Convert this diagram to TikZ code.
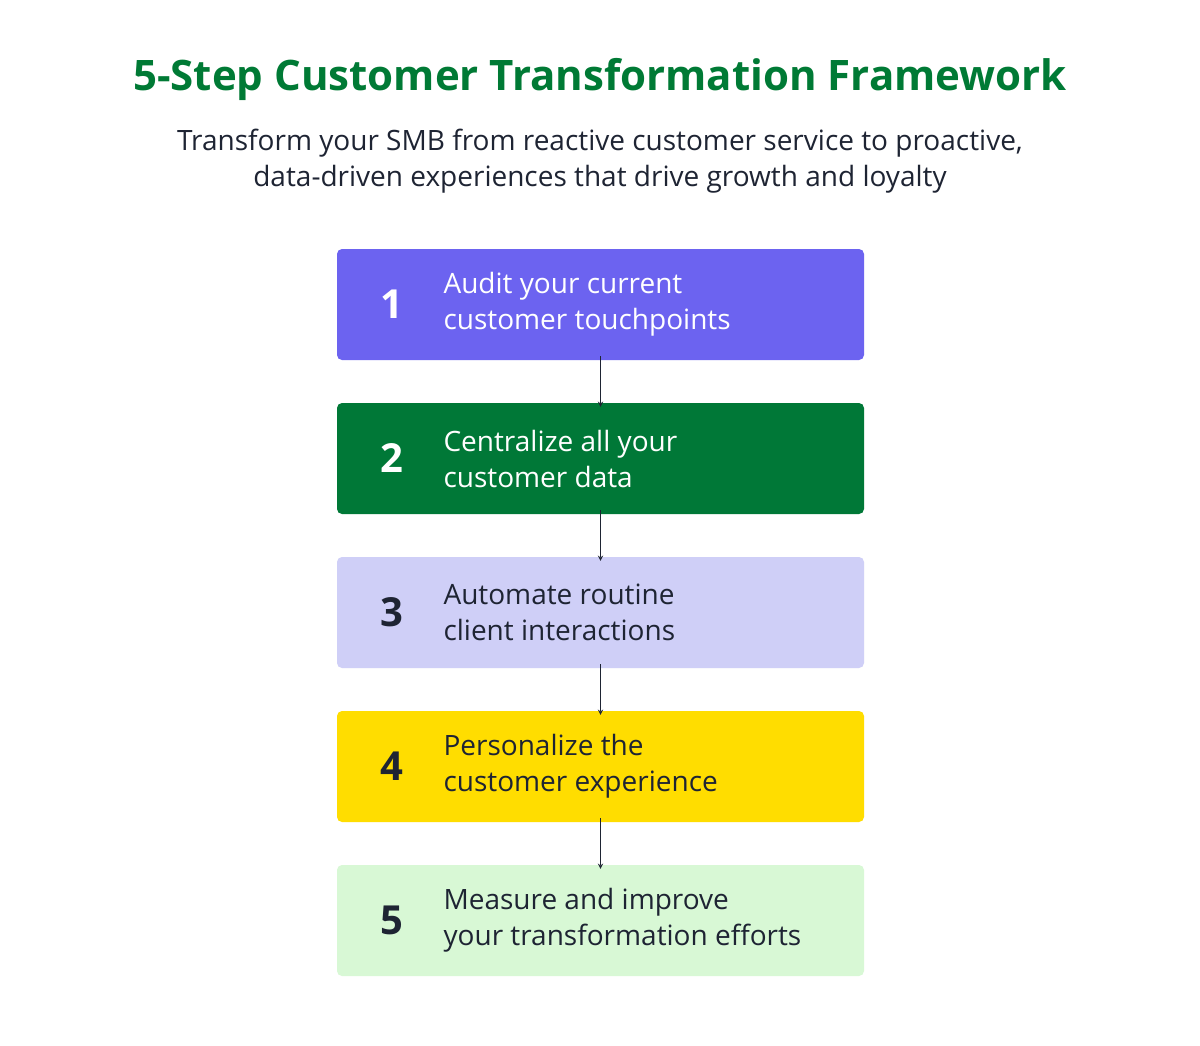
\documentclass[tikz,border=0pt]{standalone}
\usepackage{fontspec}
\setmainfont{Open Sans}
\definecolor{tgreen}{HTML}{007A35}
\definecolor{dark}{HTML}{1E2433}
\definecolor{c1}{HTML}{6C63F0}
\definecolor{c2}{HTML}{007837}
\definecolor{c3}{HTML}{CFCFF7}
\definecolor{c4}{HTML}{FFDD00}
\definecolor{c5}{HTML}{D8F8D5}
\begin{document}
\begin{tikzpicture}[x=1pt,y=-1pt,
  stepbox/.style={rounded corners=5pt,minimum width=527pt,minimum height=111pt,inner sep=0pt},
  num/.style={font=\fontsize{40}{40}\selectfont\bfseries,anchor=center},
  txt/.style={font=\fontsize{28}{36}\selectfont,anchor=west,align=left},
  arr/.style={->,>=stealth,draw=dark,line width=1.3pt}]
\useasboundingbox[fill=white] (0,0) rectangle (1200,1045);
\node[font=\fontsize{42}{48}\selectfont\bfseries,text=tgreen] (title) at (600,79) {5-Step Customer Transformation Framework};
\node[font=\fontsize{28}{36}\selectfont,text=dark,align=center] (sub) at (600,161) {Transform your SMB from reactive customer service to proactive,\\data-driven experiences that drive growth and loyalty};
\foreach \i/\y/\c/\tc/\t in {1/304.5/c1/white/{Audit your current\\customer touchpoints},
  2/458.5/c2/white/{Centralize all your\\customer data},
  3/612.5/c3/dark/{Automate routine\\client interactions},
  4/766.5/c4/dark/{Personalize the\\customer experience},
  5/920.5/c5/dark/{Measure and improve\\your transformation efforts}}{
  \node[stepbox,fill=\c] (b\i) at (600.5,\y) {};
  \node[num,text=\tc] (n\i) at (392,\y) {\i};
  \node[txt,text=\tc] (t\i) at (440,\y) {\t};
}
\foreach \a/\b in {1/2,2/3,3/4,4/5}{\draw[arr] ([yshift=4pt]b\a.south) -- ([yshift=-4pt]b\b.north);}
\end{tikzpicture}
\end{document}
